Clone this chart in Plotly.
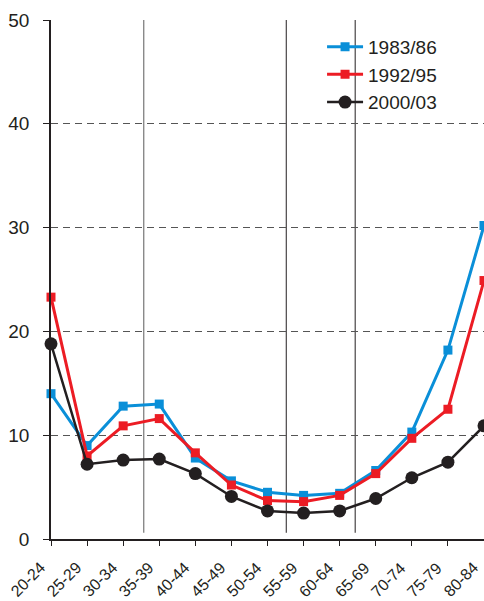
import plotly.graph_objects as go

# Age groups on the x axis
age_groups = ["20-24", "25-29", "30-34", "35-39", "40-44", "45-49", "50-54",
              "55-59", "60-64", "65-69", "70-74", "75-79", "80-84"]

# Rates per period
rate_1983_86 = [14.0, 9.0, 12.8, 13.0, 7.8, 5.6, 4.5, 4.2, 4.4, 6.6, 10.3, 18.2, 30.2]
rate_1992_95 = [23.3, 8.0, 10.9, 11.6, 8.3, 5.2, 3.7, 3.6, 4.2, 6.3, 9.7, 12.5, 24.9]
rate_2000_03 = [18.8, 7.2, 7.6, 7.7, 6.3, 4.1, 2.7, 2.5, 2.7, 3.9, 5.9, 7.4, 10.9]

y_ticks = [0, 10, 20, 30, 40, 50]

# Vertical separators, in category-index units
separators = [(2.57, "#808080", 1.3), (6.52, "#231f20", 1.0), (8.43, "#231f20", 1.0)]

FONT = "Arial, Liberation Sans, sans-serif"
INK = "#231f20"
x_idx = list(range(len(age_groups)))

fig = go.Figure()
fig.add_trace(go.Scatter(
    x=x_idx, y=rate_1983_86, name="1983/86", mode="lines+markers",
    line=dict(color="#0a8fd8", width=3),
    marker=dict(symbol="square", size=9, color="#0a8fd8"),
    cliponaxis=False))
fig.add_trace(go.Scatter(
    x=x_idx, y=rate_1992_95, name="1992/95", mode="lines+markers",
    line=dict(color="#ec1c24", width=3),
    marker=dict(symbol="square", size=9, color="#ec1c24"),
    cliponaxis=False))
fig.add_trace(go.Scatter(
    x=x_idx, y=rate_2000_03, name="2000/03", mode="lines+markers",
    line=dict(color=INK, width=2.5),
    marker=dict(symbol="circle", size=13, color=INK),
    cliponaxis=False))

for xs, col, w in separators:
    fig.add_shape(type="line", xref="x", yref="y", x0=xs, x1=xs, y0=0.6, y1=50,
                  line=dict(color=col, width=w), layer="below")

# Rotated category labels under each tick
for i, label in zip(x_idx, age_groups):
    fig.add_annotation(
        x=i, y=0, xref="x", yref="y", text=label, showarrow=False,
        textangle=-45, xanchor="right", yanchor="top",
        xshift=-1, yshift=-19, borderpad=0,
        font=dict(size=16, family=FONT, color=INK))

fig.update_layout(
    width=484, height=601,
    margin=dict(l=51, r=0, t=20, b=62, autoexpand=False),
    paper_bgcolor="white", plot_bgcolor="white",
    font=dict(family=FONT, color=INK),
    showlegend=True,
    legend=dict(x=0.626, y=0.985, xanchor="left", yanchor="top",
                font=dict(size=19, family=FONT, color=INK),
                bgcolor="rgba(0,0,0,0)", tracegroupgap=0, itemwidth=36),
)

fig.update_xaxes(
    range=[0, 12], tickmode="array", tickvals=x_idx, showticklabels=False,
    automargin=False,
    showgrid=False, zeroline=False,
    showline=True, linecolor=INK, linewidth=1.5,
    ticks="outside", ticklen=5, tickwidth=1, tickcolor=INK,
)
fig.update_yaxes(
    range=[0, 50], tickmode="array", tickvals=y_ticks, automargin=False,
    tickfont=dict(size=19, family=FONT, color=INK),
    showgrid=True, gridcolor="#555555", gridwidth=1.2, griddash="7px,5px",
    zeroline=False,
    showline=True, linecolor=INK, linewidth=1.5,
    ticks="outside", ticklen=6, tickwidth=1, tickcolor=INK,
    ticklabelstandoff=10,
)

fig.write_html("out.html")
